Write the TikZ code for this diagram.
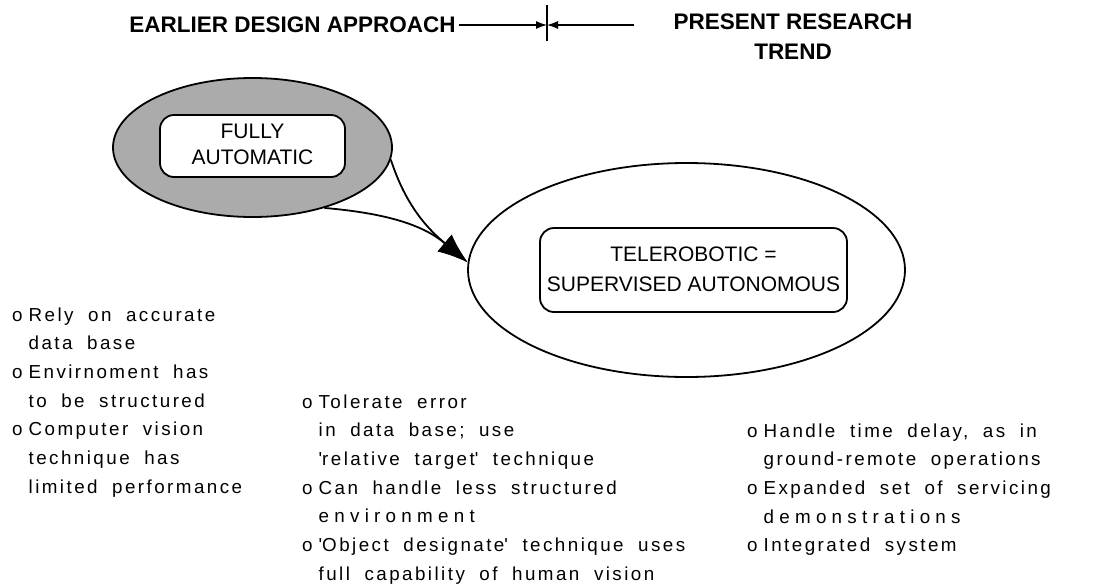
\documentclass[tikz,border=0pt]{standalone}
\usepackage{fontspec}
\setmainfont{Liberation Sans}
\newfontfamily\notesfont[LetterSpace=13,WordSpace=1.9]{Liberation Sans}
\newfontfamily\widefont[LetterSpace=28,WordSpace=1.9]{Liberation Sans}
\usetikzlibrary{arrows.meta,shapes.geometric,positioning}

\tikzset{
  heading/.style={font=\fontsize{22.5}{30}\selectfont\bfseries},
  bubble/.style={ellipse,draw,line width=1.8pt,inner sep=0pt},
  labelbox/.style={draw,fill=white,rounded corners=14pt,line width=1.8pt,inner sep=0pt},
  notes/.style={anchor=base west,inner sep=0pt,font=\notesfont\fontsize{18.8}{28.7}\selectfont},
  trendarrow/.style={-{Latex[length=11pt,width=8pt]},line width=1.2pt},
  bigarrow/.style={-{Latex[length=30pt,width=22pt]},line width=1.8pt},
}

\begin{document}
\begin{tikzpicture}[x=1pt,y=1pt]
 \useasboundingbox (0,0) rectangle (1093,-587);

 \node[heading] (earlier) at (292.5,-25) {EARLIER DESIGN APPROACH};
 \node[heading] (present) at (793,-38) {\begin{tabular}{c} PRESENT RESEARCH \\ TREND \end{tabular}};
 \coordinate (bartop) at (547,-5);
 \coordinate (barbot) at (547,-41);
 \coordinate (barmid) at (547,-25);
 \coordinate (trendtail) at (634,-25);
 \draw[line width=1.2pt] (bartop) -- (barbot);
 \draw[trendarrow] (earlier.east) -- (barmid);
 \draw[trendarrow] (trendtail) -- (barmid);

 \node[bubble,fill=black!33,minimum width=279pt,minimum height=139pt] (auto) at (252.5,-147.5) {};
 \node[labelbox,minimum width=185pt,minimum height=62pt,font=\fontsize{21}{26}\selectfont] (autobox) at (252.5,-146) {\begin{tabular}{c} FULLY \\ AUTOMATIC \end{tabular}};

 \node[bubble,fill=white,minimum width=437pt,minimum height=214pt] (tele) at (686.5,-270) {};
 \node[labelbox,minimum width=307pt,minimum height=84pt,font=\fontsize{21}{30}\selectfont] (telebox) at (693.5,-270) {\begin{tabular}{c} TELEROBOTIC = \\ SUPERVISED AUTONOMOUS \end{tabular}};

 \draw[bigarrow] (auto.-5) to[out=-72,in=140] (tele.178);
 \draw[bigarrow] (auto.-40) to[out=-5,in=140] (tele.178);

 \node[notes] (earliernotes) at (12,-321) {\begin{tabular}[t]{@{}l@{\hspace{6pt}}l@{}}
   o & Rely on accurate \\
     & data base \\
   o & Envirnoment has \\
     & to be structured \\
   o & Computer vision \\
     & technique has \\
     & limited performance \end{tabular}};
 \node[notes] (telenotes) at (302,-408) {\begin{tabular}[t]{@{}l@{\hspace{6pt}}l@{}}
   o & Tolerate error \\
     & in data base; use \\
     & \textquotesingle relative target\textquotesingle{} technique \\
   o & Can handle less structured \\
     & {\widefont environment} \\
   o & \textquotesingle Object designate\textquotesingle{} technique uses \\
     & full capability of human vision \end{tabular}};
 \node[notes] (trendnotes) at (747,-437) {\begin{tabular}[t]{@{}l@{\hspace{6pt}}l@{}}
   o & Handle time delay, as in \\
     & ground-remote operations \\
   o & Expanded set of servicing \\
     & {\widefont demonstrations} \\
   o & Integrated system \end{tabular}};
\end{tikzpicture}
\end{document}
